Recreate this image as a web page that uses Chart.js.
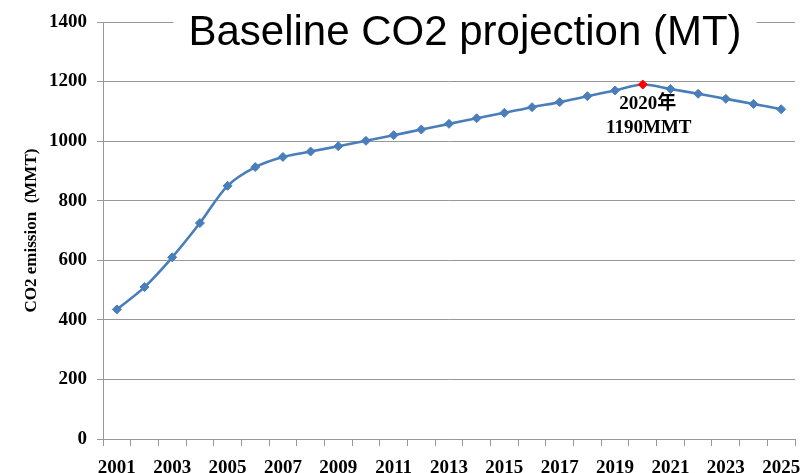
<!DOCTYPE html>
<html>
<head>
<meta charset="utf-8">
<script src="https://cdn.jsdelivr.net/npm/chart.js@4/dist/chart.umd.min.js"></script>
<style>
  html, body { margin: 0; padding: 0; background: #fff; }
  #wrap { width: 807px; height: 473px; }
</style>
</head>
<body>
<div id="wrap"><canvas id="c" width="807" height="473"></canvas></div>
<script>
// Projected CO2 emissions, million metric tonnes
const years = ['2001','2002','2003','2004','2005','2006','2007','2008','2009','2010',
               '2011','2012','2013','2014','2015','2016','2017','2018','2019','2020',
               '2021','2022','2023','2024','2025'];
const emissions = [435, 510, 610, 725, 850, 913, 947, 965, 983, 1001,
                   1020, 1039, 1058, 1077, 1095, 1114, 1131, 1151, 1170, 1190,
                   1175, 1159, 1142, 1125, 1107];
const yMin = 0, yMax = 1400, yStep = 200;
const chartTitle = 'Baseline CO2 projection (MT)';
const yTitle = 'CO2 emission  (MMT)';

const peakIndex = emissions.indexOf(Math.max(...emissions));
const peakLabel = [years[peakIndex] + '年', emissions[peakIndex] + 'MMT'];

const lineBlue = '#4A7EBB';
const gridGray = '#989898';
const serif = "'Liberation Serif', 'Times New Roman', 'Noto Sans CJK SC', serif";

const pointColors = emissions.map((v, i) => i === peakIndex ? '#FF0000' : lineBlue);

// Title sits on a white box over the top gridline, plus the peak callout
const overlay = {
  id: 'overlay',
  afterDraw(chart) {
    const ctx = chart.ctx;
    ctx.save();
    ctx.font = "42px 'Liberation Sans', Arial, sans-serif";
    const w = ctx.measureText(chartTitle).width;
    const cx = 465;
    ctx.fillStyle = '#fff';
    ctx.fillRect(cx - w / 2 - 15, 0, w + 30, 58);
    ctx.fillStyle = '#000';
    ctx.textAlign = 'center';
    ctx.textBaseline = 'alphabetic';
    ctx.fillText(chartTitle, cx, 45);

    const pt = chart.getDatasetMeta(0).data[peakIndex];
    ctx.font = "bold 19px " + serif;
    ctx.textBaseline = 'middle';
    ctx.fillText(peakLabel[0], pt.x + 5, pt.y + 20);
    ctx.fillText(peakLabel[1], pt.x + 6, pt.y + 44);
    ctx.restore();
  }
};

new Chart(document.getElementById('c'), {
  type: 'line',
  data: {
    labels: years,
    datasets: [{
      data: emissions,
      borderColor: lineBlue,
      borderWidth: 2.6,
      tension: 0.33,
      pointStyle: 'rectRot',
      pointRadius: 4.5,
      pointBackgroundColor: pointColors,
      pointBorderColor: pointColors,
      pointBorderWidth: 1
    }]
  },
  options: {
    responsive: false,
    animation: false,
    devicePixelRatio: 1,
    layout: { padding: { top: 22, right: 12, left: 0, bottom: 0 } },
    plugins: { legend: { display: false }, tooltip: { enabled: false } },
    scales: {
      x: {
        type: 'category',
        offset: true,
        grid: { offset: true, drawOnChartArea: false, drawTicks: true, tickLength: 7, color: gridGray },
        border: { display: true, color: gridGray },
        ticks: {
          autoSkip: false,
          maxRotation: 0,
          padding: 11,
          color: '#000',
          font: { family: serif, size: 19, weight: 'bold' },
          callback: function (val, idx) { return idx % 2 === 0 ? this.getLabelForValue(val) : ''; }
        },
        afterFit(scale) {
          scale.height = 34;
          scale.paddingLeft = 0;
          scale.paddingRight = 0;
        }
      },
      y: {
        min: yMin,
        max: yMax,
        grid: { color: gridGray, drawTicks: true, tickLength: 6 },
        border: { display: true, color: gridGray },
        ticks: {
          stepSize: yStep,
          padding: 10,
          color: '#000',
          font: { family: serif, size: 19, weight: 'bold' },
          callback: (v) => String(v)
        },
        title: {
          display: true,
          text: yTitle,
          color: '#000',
          padding: { top: 21, bottom: 0 },
          font: { family: serif, size: 17, weight: 'bold' }
        },
        afterFit(scale) {
          scale.width = 103;
          scale.paddingTop = 0;
          scale.paddingBottom = 0;
        }
      }
    }
  },
  plugins: [overlay]
});
</script>
</body>
</html>
